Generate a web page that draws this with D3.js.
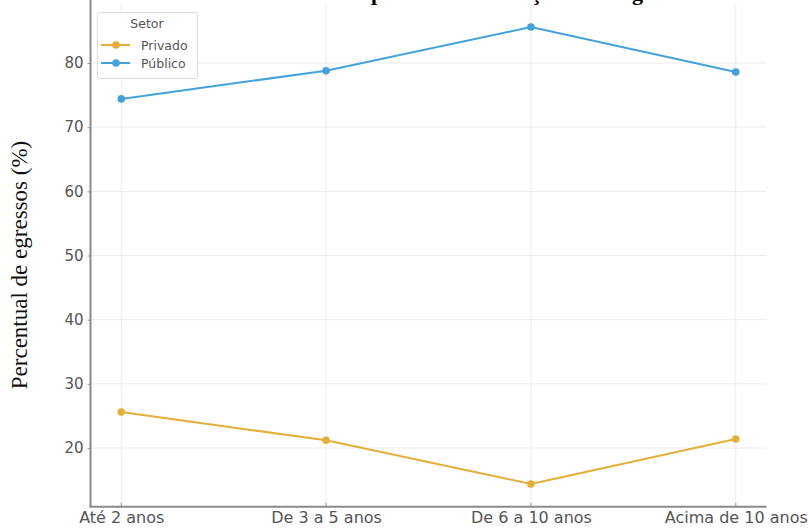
<!DOCTYPE html>
<html>
<head>
<meta charset="utf-8">
<script src="https://cdn.jsdelivr.net/npm/d3@7"></script>
<style>
html,body{margin:0;padding:0;background:#fff;}
svg{display:block;}
</style>
</head>
<body>
<svg id="chart" width="809" height="528"></svg>
<script>
const categories = ["Até 2 anos", "De 3 a 5 anos", "De 6 a 10 anos", "Acima de 10 anos"];
const privado = [25.6, 21.2, 14.4, 21.4];
const publico = [74.4, 78.8, 85.6, 78.6];
const seriesNames = ["Privado", "Público"];
const yTicks = [20, 30, 40, 50, 60, 70, 80];
const titleText = "Análise comparativa da inserção entre egressos";
const yLabel = "Percentual de egressos (%)";
const legendTitle = "Setor";

const colors = {"Privado": "#e5ae38", "Público": "#43a2dc"};
const svg = d3.select("#chart");
const L = 90.5, R = 766.5, T = 4.2, B = 506.8;

const step = (R - L) / (categories.length - 1 + 0.3);
const x = d3.scalePoint().domain(categories)
  .range([L + step * 0.15, R - step * 0.15]);
const y = d3.scaleLinear().domain([10.84, 89.16]).range([B, T]);

// grid
const g = svg.append("g");
g.selectAll(".hg").data(yTicks).join("line")
  .attr("x1", L).attr("x2", R)
  .attr("y1", d => y(d)).attr("y2", d => y(d))
  .attr("stroke", "#ececec").attr("stroke-width", 1);
g.selectAll(".vg").data(categories).join("line")
  .attr("x1", d => x(d)).attr("x2", d => x(d))
  .attr("y1", T).attr("y2", B)
  .attr("stroke", "#ececec").attr("stroke-width", 1);

// axes
const yAxis = d3.axisLeft(y).tickValues(yTicks).tickSize(3).tickPadding(4).tickFormat(d3.format("d"));
const ya = svg.append("g").attr("transform", `translate(${L},0)`).call(yAxis);
ya.select(".domain").remove();
ya.selectAll("line").attr("stroke", "#999");
ya.selectAll("text").attr("fill", "#555").style("font-family", "DejaVu Sans, sans-serif").style("font-size", "15px");

const xAxis = d3.axisBottom(x).tickSize(0).tickPadding(5);
const xa = svg.append("g").attr("transform", `translate(0,${B})`).call(xAxis);
xa.select(".domain").remove();
xa.selectAll("text").attr("fill", "#555").style("font-family", "DejaVu Sans, sans-serif").style("font-size", "16px");
svg.selectAll(".xt").data(categories).join("line")
  .attr("x1", d => x(d)).attr("x2", d => x(d))
  .attr("y1", B - 4).attr("y2", B).attr("stroke", "#999");

// spines
svg.append("line").attr("x1", L).attr("x2", L).attr("y1", 0).attr("y2", B + 0.5).attr("stroke", "#8a8a8a").attr("stroke-width", 2);
svg.append("line").attr("x1", L - 1).attr("x2", R).attr("y1", B).attr("y2", B).attr("stroke", "#8a8a8a").attr("stroke-width", 2);

// lines
const data = {"Privado": privado, "Público": publico};
const line = d3.line().x((d, i) => x(categories[i])).y(d => y(d));
seriesNames.forEach(name => {
  svg.append("path").datum(data[name]).attr("d", line)
    .attr("fill", "none").attr("stroke", colors[name]).attr("stroke-width", 2);
  svg.selectAll(".m" + name).data(data[name]).join("circle")
    .attr("cx", (d, i) => x(categories[i])).attr("cy", d => y(d))
    .attr("r", 3.8).attr("fill", colors[name]);
});

// title (cut off at top, as in the reference)
const tt = svg.append("text").attr("x", 0).attr("y", -0.5)
  .style("font-family", "Liberation Serif, serif").style("font-weight", "bold").style("font-size", "22px")
  .attr("fill", "#000").text(titleText);
const pIdx = titleText.indexOf("p");
const off = tt.node().getStartPositionOfChar(pIdx).x;
tt.attr("x", 371 - off);

// y label
svg.append("text").attr("transform", "translate(27,265) rotate(-90)")
  .attr("text-anchor", "middle")
  .style("font-family", "Liberation Serif, serif").style("font-size", "23px")
  .attr("fill", "#111").text(yLabel);

// legend
const lg = svg.append("g");
lg.append("rect").attr("x", 97.5).attr("y", 12.5).attr("width", 100).attr("height", 66)
  .attr("fill", "#fff").attr("fill-opacity", 0.85).attr("stroke", "#ddd").attr("rx", 2);
lg.append("text").attr("x", 147).attr("y", 28).attr("text-anchor", "middle")
  .style("font-family", "DejaVu Sans, sans-serif").style("font-size", "12.5px").attr("fill", "#555").text(legendTitle);
seriesNames.forEach((name, i) => {
  const yy = 45 + i * 18;
  lg.append("line").attr("x1", 101).attr("x2", 130).attr("y1", yy).attr("y2", yy)
    .attr("stroke", colors[name]).attr("stroke-width", 2);
  lg.append("circle").attr("cx", 116).attr("cy", yy).attr("r", 3.8).attr("fill", colors[name]);
  lg.append("text").attr("x", 141).attr("y", yy + 4.5)
    .style("font-family", "DejaVu Sans, sans-serif").style("font-size", "12.5px").attr("fill", "#555").text(name);
});
</script>
</body>
</html>
